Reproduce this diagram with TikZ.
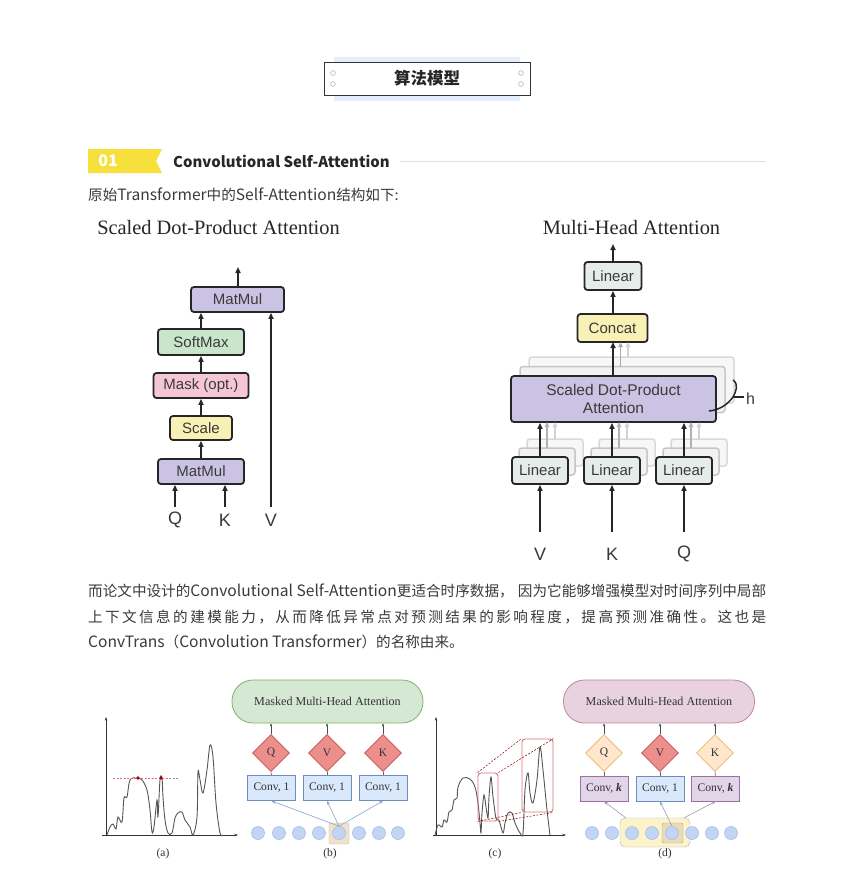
\documentclass[tikz,border=0pt]{standalone}
\usepackage{fontspec}
\setmainfont{Liberation Serif}
\setsansfont{Liberation Sans}
\newfontfamily\cjk{Noto Sans CJK SC}
\usetikzlibrary{arrows.meta,shapes.geometric,calc}
\definecolor{hdrbg}{HTML}{E4EEFA}
\definecolor{hdrline}{HTML}{333333}
\definecolor{tagyellow}{HTML}{F7E03C}
\definecolor{txt}{HTML}{3A3A3A}
\definecolor{cmatmul}{HTML}{CBC3E3}
\definecolor{csoft}{HTML}{C9E5CC}
\definecolor{cmask}{HTML}{F5C6D8}
\definecolor{cscale}{HTML}{F7F1B5}
\definecolor{clin}{HTML}{E5ECE9}
\definecolor{gfill}{HTML}{D5E8D4}
\definecolor{gline}{HTML}{82B366}
\definecolor{pfill}{HTML}{E8D2DF}
\definecolor{pline}{HTML}{B9889F}
\definecolor{rfill}{HTML}{EC8F8C}
\definecolor{rline}{HTML}{C0504D}
\definecolor{yfill}{HTML}{FFE6CC}
\definecolor{yline}{HTML}{E8B86A}
\definecolor{bfill}{HTML}{DAE8FC}
\definecolor{bline}{HTML}{6C8EBF}
\definecolor{vfill}{HTML}{E1D5E7}
\definecolor{vline}{HTML}{9673A6}
\definecolor{cfill}{HTML}{C3D5F5}
\definecolor{cline}{HTML}{A6BDE8}
\definecolor{curve}{HTML}{555555}
\definecolor{redl}{HTML}{D9707A}
\definecolor{hlfill}{HTML}{F3E0C8}
\definecolor{ybfill}{HTML}{FDF3CB}
\definecolor{ysfill}{HTML}{EADBB8}
\def\spreadchars#1{\spreadA#1\relax}
\def\spreadA#1{\ifx#1\relax\else#1\hfill\expandafter\spreadA\fi}
\newcommand\latw[1]{{\fontsize{15.6}{16}\selectfont #1}}
\begin{document}
\begin{tikzpicture}[x=1pt,y=-1pt,
  box/.style={draw=black!85, line width=1.8pt, rounded corners=3pt, inner sep=0pt,
    font=\sffamily\fontsize{15}{15}\selectfont, text=txt},
  arr/.style={-{Triangle[length=6pt,width=5pt]}, line width=1.8pt, draw=black!85},
  garr/.style={-{Triangle[length=5pt,width=4.5pt]}, line width=1.5pt},
  shadowbox/.style={draw=gray!45, fill=gray!10, line width=1.5pt, rounded corners=3pt, inner sep=0pt},
  lbl/.style={font=\sffamily\fontsize{18}{18}\selectfont, text=txt, inner sep=0pt},
  pill/.style={rounded corners=21pt, line width=0.8pt, minimum width=191pt, minimum height=43pt,
    font=\fontsize{12.1}{12}\selectfont, text=black!80},
  dia/.style={diamond, minimum width=37pt, minimum height=37pt, inner sep=0pt, line width=0.8pt,
    font=\fontsize{11.5}{11}\selectfont, text=black!80},
  conv/.style={rectangle, minimum width=48pt, minimum height=25pt, inner sep=0pt, line width=0.8pt,
    font=\fontsize{11.6}{11}\selectfont, text=black!80},
  circ/.style={circle, minimum size=13pt, inner sep=0pt, fill=cfill, draw=cline, line width=0.6pt},
  sarr/.style={-{Stealth[length=3pt,width=2.5pt]}, line width=0.6pt, draw=black!70},
  barr/.style={-{Stealth[length=4pt,width=3pt]}, line width=0.6pt},
  capt/.style={font=\fontsize{11.5}{11}\selectfont, text=black!80},
  axisarr/.style={-{Stealth[length=3.5pt,width=2.5pt]}, line width=0.7pt, draw=black!80}
]
\useasboundingbox[fill=white] (0,0) rectangle (850,881);

% ---------- header ----------
\fill[hdrbg] (334,57) rectangle (520,101);
\node[draw=hdrline, fill=white, line width=0.8pt, minimum width=206pt, minimum height=33pt, inner sep=0pt,
  font=\cjk\bfseries\fontsize{16.5}{17}\selectfont, text=black!85] (hdr) at (427,78.5) {算法模型};
\foreach \px/\py in {333/73,333/84,521/73,521/84}
  \draw[gray!70, fill=white, line width=0.5pt] (\px,\py) circle[radius=2.4];

% ---------- section title ----------
\fill[tagyellow] (88,149) -- (162,149) -- (156,161) -- (162,173) -- (88,173) -- cycle;
\node[font=\cjk\bfseries\fontsize{16}{16}\selectfont, text=white] (num) at (108,161) {01};
\node[anchor=west, font=\cjk\bfseries\fontsize{14.9}{16}\selectfont, text=black!85, inner sep=0pt] (sect) at (173,161) {Convolutional Self-Attention};
\draw[gray!25, line width=0.8pt] (400,161) -- (766,161);
\node[anchor=west, font=\cjk\fontsize{14.6}{16}\selectfont, text=txt, inner sep=0pt] (intro) at (88,195) {原始\latw{Transformer}中的\latw{Self-Attention}结构如下:};

% ---------- left diagram ----------
\node[font=\fontsize{20.4}{20}\selectfont, text=black!85] (ltitle) at (218.5,228) {Scaled Dot-Product Attention};
\node[box, fill=cmatmul, minimum width=93pt, minimum height=25pt] (mm2) at (237.5,299.5) {MatMul};
\node[box, fill=csoft, minimum width=86pt, minimum height=26pt] (soft) at (201,342) {SoftMax};
\node[box, fill=cmask, minimum width=95pt, minimum height=25pt] (mask) at (201,385.5) {Mask (opt.)};
\node[box, fill=cscale, minimum width=62pt, minimum height=24pt] (scale) at (201,428) {Scale};
\node[box, fill=cmatmul, minimum width=86pt, minimum height=25pt] (mm1) at (201,471.5) {MatMul};
\draw[arr] (mm1.north) -- (scale.south);
\draw[arr] (scale.north) -- (mask.south);
\draw[arr] (mask.north) -- (soft.south);
\draw[arr] (soft.north) -- (soft.north |- mm2.south);
\coordinate (lout) at (238,267);
\draw[arr] (mm2.north -| lout) -- (lout);
\node[lbl] (lq) at (175,520) {Q};
\node[lbl] (lk) at (225,520) {K};
\node[lbl] (lv) at (271,520) {V};
\coordinate (sq) at (175,507);
\coordinate (sk) at (225,507);
\coordinate (sv) at (271,507);
\draw[arr] (sq) -- (sq |- mm1.south);
\draw[arr] (sk) -- (sk |- mm1.south);
\draw[arr] (sv) -- (sv |- mm2.south);

% ---------- right diagram ----------
\node[font=\fontsize{20.4}{20}\selectfont, text=black!85] (rtitle) at (631.5,228) {Multi-Head Attention};
\node[box, fill=clin, minimum width=57pt, minimum height=28pt] (lintop) at (613,276) {Linear};
\node[box, fill=cscale, minimum width=70pt, minimum height=28pt] (concat) at (612.5,328) {Concat};
\coordinate (rout) at (613,244);
\draw[arr] (lintop.north) -- (rout);
\draw[arr] (concat.north -| lintop) -- (lintop.south);
% stacked heads
\node[shadowbox, draw=gray!30, fill=gray!6, minimum width=205pt, minimum height=46pt] (sdpaC) at (631.5,380) {};
\node[shadowbox, minimum width=205pt, minimum height=46pt] (sdpaB) at (622.5,389.5) {};
\node[box, fill=cmatmul, minimum width=205pt, minimum height=46pt, align=center,
  font=\sffamily\fontsize{15.5}{15.5}\selectfont] (sdpa) at (613.5,399)
  {Scaled Dot-Product\\[3pt]Attention};
\draw[garr, draw=gray!35] (628,357) -- (628,342);
\draw[garr, draw=gray!65] (620.5,366.5) -- (620.5,342);
\draw[arr] (613,376) -- (613,342);
% brace h
\draw[line width=1.5pt, black!85] (733,380) .. controls (739,384) and (736,392) .. (733,397)
  .. controls (728,404) and (720,410) .. (709,411);
\draw[line width=1.2pt, black!85] (733,397) -- (744,397);
\node[font=\sffamily\fontsize{16}{16}\selectfont, text=txt, anchor=west, inner sep=0pt] (hlab) at (746,399) {h};
% linears
\foreach \nm/\cx in {V/540,K/612,Q/684}{
  \node[shadowbox, draw=gray!30, fill=gray!6, minimum width=56pt, minimum height=27pt] (lin\nm C) at (\cx+15,452.5) {};
  \node[shadowbox, minimum width=56pt, minimum height=27pt] (lin\nm B) at (\cx+7,461.5) {};
  \draw[garr, draw=gray!35] (\cx+15,439) -- (\cx+15,422);
  \draw[garr, draw=gray!60] (\cx+7,448) -- (\cx+7,422);
  \node[box, fill=clin, minimum width=56pt, minimum height=27pt] (lin\nm) at (\cx,470.5) {Linear};
  \draw[arr] (lin\nm.north) -- (lin\nm.north |- sdpa.south);
  \node[lbl] (in\nm) at (\cx,554) {\nm};
  \coordinate (s\nm) at (\cx,532);
  \draw[arr] (s\nm) -- (s\nm |- lin\nm.south);
}

% ---------- paragraph ----------
\node[anchor=west, inner sep=0pt, font=\cjk\fontsize{14.6}{16}\selectfont, text=txt] (p1) at (88,591)
  {\makebox[678pt][s]{而论文中设计的\latw{Convolutional Self-Attention}更适合时序数据，\hfill 因为它能够增强模型对时间序列中局部}};
\node[anchor=west, inner sep=0pt, font=\cjk\fontsize{14.6}{16}\selectfont, text=txt] (p2) at (88,617)
  {\makebox[678pt][s]{\spreadchars{上下文信息的建模能力，从而降低异常点对预测结果的影响程度，提高预测准确性。这也是}\unskip}};
\node[anchor=west, inner sep=0pt, font=\cjk\fontsize{14.6}{16}\selectfont, text=txt] (p3) at (88,642)
  {\latw{ConvTrans}（\latw{Convolution Transformer}）的名称由来。};

% ---------- (a) ----------
\draw[axisarr] (106,836) -- (106,717);
\draw[axisarr] (102,835) -- (238,835);
\draw[curve, line width=0.9pt] plot[smooth, tension=0.55] coordinates {
 (107,835) (110,827) (113,824) (116,829) (118,817) (122,822) (124,798) (127,797) (130,780)
 (137,778) (142,780) (147,790) (150,810) (152,832) (154,827) (157,800) (158,817) (160,780)
 (162,778) (163,797) (165,820) (168,833) (172,833) (175,818) (178,813) (182,812) (185,820)
 (190,827) (193,835) (197,817) (198,772) (200,780) (203,793) (207,770) (210,745) (213,757)
 (216,803) (220,833) (223,835)};
\draw[redl, dashed, line width=0.7pt, dash pattern=on 2pt off 1.5pt] (113,778) -- (178,778);
\fill[red!70!black] (138,778) circle[radius=1.8];
\fill[red!70!black] (161,778) circle[radius=1.8];
\node[capt] (capa) at (163,854) {(a)};

% ---------- (b) ----------
\node[pill, fill=gfill, draw=gline] (pillb) at (327.5,701.5) {Masked Multi-Head Attention};
\node[dia, fill=rfill, draw=rline] (bQ) at (271,753) {Q};
\node[dia, fill=rfill, draw=rline] (bV) at (327,753) {V};
\node[dia, fill=rfill, draw=rline] (bK) at (383,753) {K};
\node[conv, fill=bfill, draw=bline] (b1) at (271.5,788) {Conv, 1};
\node[conv, fill=bfill, draw=bline] (b2) at (327,788) {Conv, 1};
\node[conv, fill=bfill, draw=bline] (b3) at (383,788) {Conv, 1};
\foreach \d/\c in {bQ/b1,bV/b2,bK/b3}{
  \draw[black!60, line width=0.6pt] (\d.south) -- (\c.north);
  \draw[sarr] (\d.north) -- (\d.north |- pillb.south);
}
\node[draw=black!25, fill=hlfill, rounded corners=2pt, minimum width=20pt, minimum height=21pt, inner sep=0pt] (bhl) at (339,833.5) {};
\foreach \i/\cx in {1/258,2/279,3/299,4/319,5/339,6/359,7/379,8/398}
  \node[circ] (bc\i) at (\cx,833) {};
\draw[barr, draw=bline!80] (bc5.north) -- (b1.south);
\draw[barr, draw=bline!80] (bc5.north) -- (b2.south);
\draw[barr, draw=bline!80] (bc5.north) -- (b3.south);
\node[capt] (capb) at (330,854) {(b)};

% ---------- (c) ----------
\draw[axisarr] (436,836) -- (436,717);
\draw[axisarr] (433,835) -- (566,835);
\draw[curve, line width=0.9pt] plot[smooth, tension=0.55] coordinates {
 (435,835) (438,825) (442,827) (444,820) (447,822) (449,812) (452,810) (454,800) (457,798)
 (458,787) (463,778) (470,779) (475,787) (478,803) (480,823) (481,833) (482,813) (484,795)
 (486,807) (488,818) (489,797) (491,777) (493,797) (496,818) (499,820) (503,833) (505,823)
 (508,813) (512,813) (515,823) (520,833) (523,833) (525,790) (528,773) (530,793) (533,803)
 (537,780) (540,747) (543,770) (547,810) (550,835)};
\node[draw=redl, line width=0.9pt, rounded corners=3pt, minimum width=20pt, minimum height=48pt, inner sep=0pt] (small) at (488,797) {};
\node[draw=redl, line width=0.9pt, rounded corners=3pt, minimum width=31pt, minimum height=73pt, inner sep=0pt] (big) at (537.5,775.5) {};
\foreach \a/\b in {north west/north west, north east/north east, south west/south west, south east/south east}
  \draw[red!55!black, dashed, dash pattern=on 2pt off 1.5pt, line width=0.5pt] (small.\a) -- (big.\b);
\node[capt] (capc) at (495,854) {(c)};

% ---------- (d) ----------
\node[pill, fill=pfill, draw=pline] (pilld) at (659,701.5) {Masked Multi-Head Attention};
\node[dia, fill=yfill, draw=yline] (dQ) at (604,753) {Q};
\node[dia, fill=rfill, draw=rline] (dV) at (660,753) {V};
\node[dia, fill=yfill, draw=yline] (dK) at (715,753) {K};
\node[conv, fill=vfill, draw=vline] (d1) at (604,788.5) {Conv, \textbf{\textit{k}}};
\node[conv, fill=bfill, draw=bline] (d2) at (660,788.5) {Conv, 1};
\node[conv, fill=vfill, draw=vline] (d3) at (715.5,788.5) {Conv, \textbf{\textit{k}}};
\foreach \d/\c in {dQ/d1,dV/d2,dK/d3}{
  \draw[black!60, line width=0.6pt] (\d.south) -- (\c.north);
  \draw[sarr] (\d.north) -- (\d.north |- pilld.south);
}
\node[draw=black!30, fill=ybfill, rounded corners=5pt, minimum width=70pt, minimum height=29pt, inner sep=0pt] (ybig) at (655,832.5) {};
\node[draw=black!35, fill=ysfill, rounded corners=2pt, minimum width=21pt, minimum height=20pt, inner sep=0pt] (ysm) at (672.5,833) {};
\foreach \i/\cx in {1/592,2/612,3/632,4/652,5/672,6/692,7/712,8/731}
  \node[circ] (dc\i) at (\cx,833) {};
\draw[barr, draw=vline!80] ([xshift=6pt]ybig.north west) -- (d1.south);
\draw[barr, draw=bline!80] (dc5.north) -- (d2.south);
\draw[barr, draw=vline!80] ([xshift=-6pt]ybig.north east) -- (d3.south);
\node[capt] (capd) at (665,854) {(d)};
\end{tikzpicture}
\end{document}
